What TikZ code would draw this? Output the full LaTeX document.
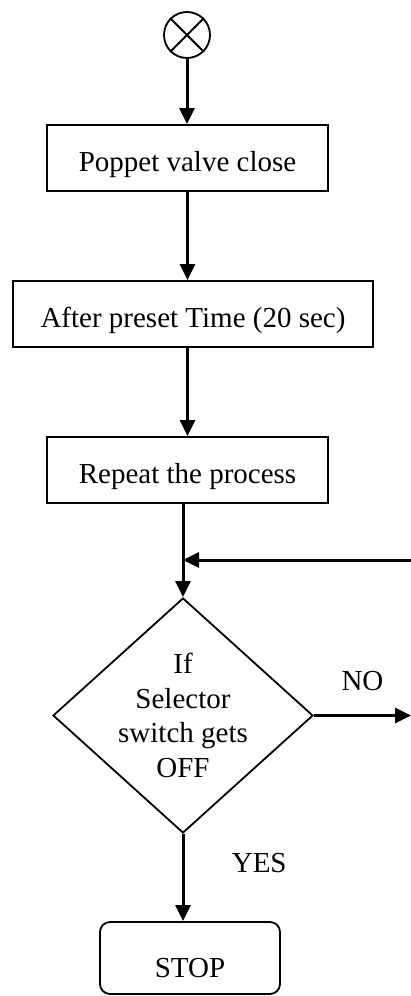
\documentclass[tikz,border=0pt]{standalone}
\usepackage{fontspec}
\setmainfont{Liberation Serif}
\usetikzlibrary{arrows.meta,positioning,shapes.geometric}

\begin{document}
\begin{tikzpicture}[x=1pt,y=-1pt,>={Triangle[length=16pt,width=15pt]},font=\fontsize{29}{34.5}\selectfont,
  stepbox/.style={draw,line width=1.8pt,minimum height=66pt,inner sep=0pt,text height=26pt,text depth=0pt},
  flow/.style={->,line width=3pt}]
\useasboundingbox (0,0) rectangle (411,996);
\node[circle,draw,line width=1.8pt,minimum size=46pt,inner sep=0pt] (start) at (187,35) {};
\draw[line width=1.8pt] (start.north west)--(start.south east) (start.north east)--(start.south west);
\node[stepbox,minimum width=281pt] (close) at (187.5,158) {Poppet valve close};
\node[stepbox,minimum width=360pt] (wait) at (193,314) {After preset Time (20 sec)};
\node[stepbox,minimum width=281pt] (repeat) at (187.5,470) {Repeat the process};
\node[diamond,draw,line width=1.8pt,minimum width=260pt,minimum height=235pt,inner sep=0pt] (sel) at (183,715.5) {};
\node[align=center] (seltext) at (sel.center) {If\\Selector\\switch gets\\OFF};
\node[draw,rounded corners=10pt,line width=1.8pt,minimum width=180pt,minimum height=72pt,text height=38pt,text depth=0pt] (stop) at (190,958) {STOP};
\draw[flow] (start.south) -- (start.south |- close.north);
\draw[flow] (close.south) -- (close.south |- wait.north);
\draw[flow] (wait.south -| close.south) -- (close.south |- repeat.north);
\draw[flow] (repeat.south -| sel.north) -- (sel.north);
\coordinate (loop) at (411,560);
\draw[flow] (loop) -- (loop -| sel.north);
\coordinate (noend) at (411,715.5);
\draw[flow] (sel.east) -- node[midway,above=20pt] (no) {NO} (noend);
\draw[flow] (sel.south) -- node[pos=0.33,right=44pt] (yes) {YES} (sel.south |- stop.north);
\end{tikzpicture}
\end{document}
